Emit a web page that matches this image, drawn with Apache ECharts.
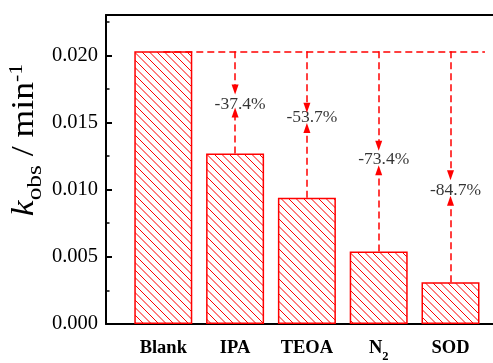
<!DOCTYPE html>
<html><head><meta charset="utf-8">
<script src="https://cdn.jsdelivr.net/npm/echarts@6/dist/echarts.min.js"></script>
<style>html,body{margin:0;padding:0;background:#fff}#c{width:493px;height:363px}</style>
</head><body><div id="c"></div>
<script>
// ---- data ----
const categories = ['Blank', 'IPA', 'TEOA', 'N2', 'SOD'];
const kobs = [0.0203, 0.0127, 0.0094, 0.0054, 0.0031];
const changeText = ['', '-37.4%', '-53.7%', '-73.4%', '-84.7%'];
// annotation anchor values (in k_obs units)
const labelAt = [null, 0.01637, 0.01539, 0.01225, 0.00991];
const arrowDownTip = [null, 0.01745, 0.01610, 0.01327, 0.01108];
const arrowUpTip = [null, 0.01575, 0.01459, 0.01145, 0.00918];
const yMin = 0, yMax = 0.023, yStep = 0.005, yMinorStep = 0.0025;

// ---- hatch pattern ----
const T = 15;
const tile = document.createElement('canvas');
tile.width = T; tile.height = T;
const g = tile.getContext('2d');
g.fillStyle = '#fff'; g.fillRect(0, 0, T, T);
g.strokeStyle = '#ff0000'; g.lineWidth = 1.0;
for (let o = -T; o <= T; o += T / 2) {
  g.beginPath(); g.moveTo(o, 0); g.lineTo(o + T, T); g.stroke();
}

const RED = '#ff0000';
const FONT = '"Liberation Serif", "Times New Roman", serif';
const xMin = -0.798, xMax = -0.798 + 387 / 71.8;

const arrowData = [];
for (let i = 1; i < categories.length; i++) {
  arrowData.push([{coord: [i, kobs[0]]}, {coord: [i, arrowDownTip[i]]}]);
  arrowData.push([{coord: [i, kobs[i]]}, {coord: [i, arrowUpTip[i]]}]);
}
const labelPts = [];
for (let i = 1; i < categories.length; i++) labelPts.push([i, labelAt[i], changeText[i]]);

const chart = echarts.init(document.getElementById('c'), null, {renderer: 'canvas'});
chart.setOption({
  animation: false,
  backgroundColor: '#fff',
  grid: {left: 106, right: 0, top: 15, bottom: 33, containLabel: false},
  xAxis: [{
    type: 'value', min: xMin, max: xMax, position: 'bottom',
    axisLine: {show: true, onZero: false, lineStyle: {color: '#000', width: 2}},
    axisTick: {show: false},
    splitLine: {show: false},
    axisLabel: {
      customValues: categories.map((c, i) => i),
      margin: 15,
      formatter: v => {
        const n = categories[Math.round(v)];
        const m = /^([A-Za-z]+)(\d+)$/.exec(n);
        return m ? '{b|' + m[1] + '}{s|' + m[2] + '}' : '{b|' + n + '}';
      },
      rich: {
        b: {fontFamily: FONT, fontSize: 18.5, fontWeight: 'bold', color: '#000', verticalAlign: 'bottom', padding: [0, 0, 5, 0]},
        s: {fontFamily: FONT, fontSize: 12.5, fontWeight: 'bold', color: '#000', verticalAlign: 'bottom'}
      }
    }
  }, {
    type: 'value', min: xMin, max: xMax, position: 'top',
    axisLine: {show: true, onZero: false, lineStyle: {color: '#000', width: 2}},
    axisTick: {show: false}, axisLabel: {show: false}, splitLine: {show: false}
  }],
  yAxis: [{
    type: 'value', min: yMin, max: yMax, interval: yStep, position: 'left',
    axisLine: {show: true, onZero: false, lineStyle: {color: '#000', width: 2}},
    axisTick: {show: true, inside: true, length: 6, lineStyle: {color: '#000', width: 2}},
    splitLine: {show: false},
    axisLabel: {showMaxLabel: false, margin: 8, fontFamily: FONT, fontSize: 20.5, color: '#000',
      formatter: v => v.toFixed(3)}
  }, {
    type: 'value', min: yMin, max: yMax, interval: yMinorStep, position: 'left',
    axisLine: {show: false, onZero: false},
    axisTick: {show: true, inside: true, length: 3.5, lineStyle: {color: '#000', width: 1.5}},
    axisLabel: {show: false}, splitLine: {show: false}
  }],
  graphic: [{
    type: 'text', x: 27, y: 140, rotation: Math.PI / 2, scaleX: 1.15,
    style: {
      text: '{k|k}{o|obs}{m| / min}{p|-1}',
      textAlign: 'center', textVerticalAlign: 'middle',
      rich: {
        k: {fontFamily: FONT, fontSize: 31, fontStyle: 'italic', fill: '#000', verticalAlign: 'bottom', padding: [0, 0, 6, 0]},
        o: {fontFamily: FONT, fontSize: 22, fill: '#000', verticalAlign: 'bottom'},
        m: {fontFamily: FONT, fontSize: 31, fill: '#000', verticalAlign: 'bottom', padding: [0, 0, 6, 0]},
        p: {fontFamily: FONT, fontSize: 19, fill: '#000', verticalAlign: 'bottom', padding: [0, 0, 20, 0]}
      }
    }
  }],
  series: [{
    type: 'bar', xAxisIndex: 0, yAxisIndex: 0,
    data: kobs.map((v, i) => [i, v]),
    barWidth: 58,
    itemStyle: {color: {image: tile, repeat: 'repeat'}, borderColor: RED, borderWidth: 1.5},
    emphasis: {disabled: true},
    silent: true,
    markLine: {
      silent: true,
      symbol: ['none', 'triangle'],
      symbolSize: [7, 10],
      label: {show: false},
      emphasis: {disabled: true},
      lineStyle: {color: RED, width: 1.5, type: [7, 4]},
      data: arrowData
    }
  }, {
    type: 'scatter', xAxisIndex: 0, yAxisIndex: 0,
    data: labelPts,
    symbolSize: 0,
    silent: true,
    label: {show: true, position: 'inside', offset: [5, 0], formatter: p => p.data[2],
      fontFamily: FONT, fontSize: 17.5, color: '#000'},
    markLine: {
      silent: true,
      symbol: 'none',
      label: {show: false},
      emphasis: {disabled: true},
      lineStyle: {color: RED, width: 1.5, type: [7, 4]},
      data: [[{coord: [0, kobs[0]]}, {coord: [categories.length - 1 + 0.48, kobs[0]]}]]
    }
  }]
});
</script>
</body></html>
